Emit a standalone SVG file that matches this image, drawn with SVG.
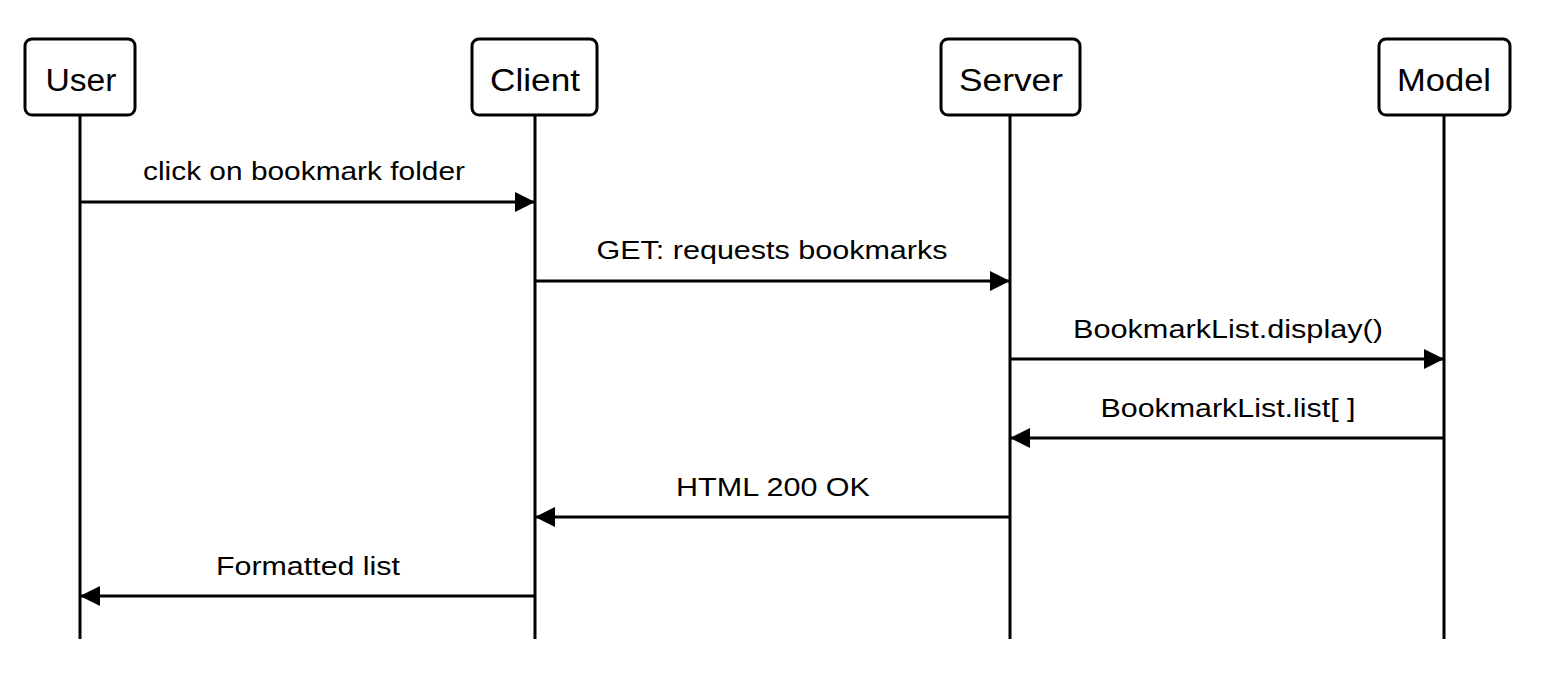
<svg xmlns="http://www.w3.org/2000/svg" width="1542" height="680" viewBox="0 0 1542 680">
<style>
.box{fill:#fff;stroke:#000;stroke-width:3}
.life{stroke:#000;stroke-width:3}
.msg{stroke:#000;stroke-width:3;fill:none}
.nt{font-family:"Liberation Sans",Arial,sans-serif;font-size:31px;text-anchor:middle;fill:#000}
.lt{font-family:"Liberation Sans",Arial,sans-serif;font-size:26px;text-anchor:middle;fill:#000}
</style>
<defs>
<marker id="ah" markerWidth="20" markerHeight="20" refX="20" refY="10" orient="auto" markerUnits="userSpaceOnUse">
<path d="M0,0 L20,10 L0,20 Z" fill="#000"/>
</marker>
</defs>
<g id="lifelines">
<line class="life" x1="80" y1="115" x2="80" y2="639"/>
<line class="life" x1="535" y1="115" x2="535" y2="639"/>
<line class="life" x1="1010" y1="115" x2="1010" y2="639"/>
<line class="life" x1="1444" y1="115" x2="1444" y2="639"/>
</g>
<g id="node-user"><rect class="box" x="25" y="39" width="110" height="76" rx="7"/><text class="nt" x="81" y="91" textLength="71" lengthAdjust="spacingAndGlyphs">User</text></g>
<g id="node-client"><rect class="box" x="472" y="39" width="125" height="76" rx="7"/><text class="nt" x="535" y="91" textLength="90" lengthAdjust="spacingAndGlyphs">Client</text></g>
<g id="node-server"><rect class="box" x="941" y="39" width="139" height="76" rx="7"/><text class="nt" x="1011" y="91" textLength="104" lengthAdjust="spacingAndGlyphs">Server</text></g>
<g id="node-model"><rect class="box" x="1379" y="39" width="131" height="76" rx="7"/><text class="nt" x="1444" y="91" textLength="94" lengthAdjust="spacingAndGlyphs">Model</text></g>
<g id="connectors">
<line class="msg" x1="80" y1="202" x2="535" y2="202" marker-end="url(#ah)"/>
<line class="msg" x1="535" y1="281" x2="1010" y2="281" marker-end="url(#ah)"/>
<line class="msg" x1="1010" y1="359" x2="1444" y2="359" marker-end="url(#ah)"/>
<line class="msg" x1="1444" y1="438" x2="1010" y2="438" marker-end="url(#ah)"/>
<line class="msg" x1="1010" y1="517" x2="535" y2="517" marker-end="url(#ah)"/>
<line class="msg" x1="535" y1="596" x2="80" y2="596" marker-end="url(#ah)"/>
</g>
<g id="labels">
<text class="lt" x="304" y="180" textLength="322" lengthAdjust="spacingAndGlyphs">click on bookmark folder</text>
<text class="lt" x="772" y="259" textLength="351" lengthAdjust="spacingAndGlyphs">GET: requests bookmarks</text>
<text class="lt" x="1228" y="338" textLength="310" lengthAdjust="spacingAndGlyphs">BookmarkList.display()</text>
<text class="lt" x="1228" y="417" textLength="255" lengthAdjust="spacingAndGlyphs">BookmarkList.list[ ]</text>
<text class="lt" x="773" y="496" textLength="194" lengthAdjust="spacingAndGlyphs">HTML 200 OK</text>
<text class="lt" x="308" y="575" textLength="184" lengthAdjust="spacingAndGlyphs">Formatted list</text>
</g>
</svg>
